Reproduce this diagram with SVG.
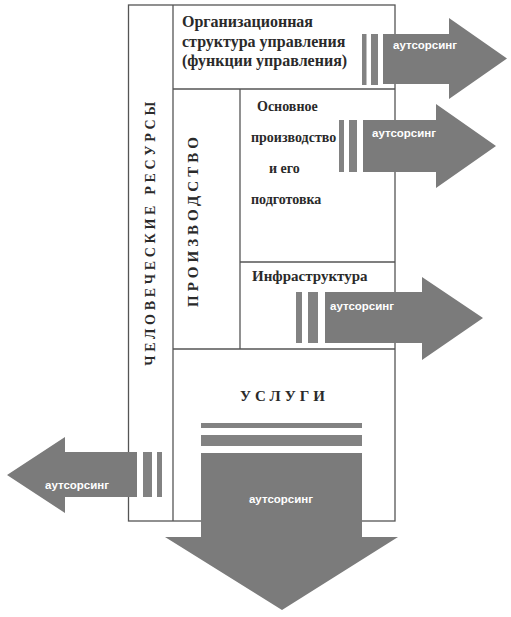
<svg xmlns="http://www.w3.org/2000/svg" width="511" height="617" viewBox="0 0 511 617">
<style>
.box{fill:none;stroke:#555;stroke-width:1.3}
.arr{fill:#7b7b7b}
.bar{fill:#828282}
.lbl{font-family:"Liberation Serif","Times New Roman",serif;font-weight:bold;fill:#2a2a2a}
.out{font-family:"Liberation Sans",Arial,sans-serif;font-weight:bold;fill:#fff;font-size:11.5px}
</style>
<rect width="511" height="617" fill="#fff"/>
<g id="frame">
<rect class="box" x="128.5" y="5" width="266.5" height="516"/>
<line class="box" x1="173" y1="5" x2="173" y2="521"/>
</g>
<g id="node-org">
<line class="box" x1="173" y1="89" x2="395" y2="89"/>
<text class="lbl" font-size="16" x="182" y="27">Организационная</text>
<text class="lbl" font-size="16" x="182" y="47">структура управления</text>
<text class="lbl" font-size="16" x="182" y="66">(функции управления)</text>
</g>
<g id="node-hr">
<text class="lbl" font-size="14" letter-spacing="3.7" transform="translate(155,232) rotate(-90)" text-anchor="middle">ЧЕЛОВЕЧЕСКИЕ РЕСУРСЫ</text>
</g>
<g id="node-prod">
<line class="box" x1="240" y1="89" x2="240" y2="349"/>
<text class="lbl" font-size="15" letter-spacing="4" transform="translate(198,220) rotate(-90)" text-anchor="middle">ПРОИЗВОДСТВО</text>
</g>
<g id="node-main">
<line class="box" x1="240" y1="262" x2="395" y2="262"/>
<text class="lbl" font-size="14" x="257" y="111">Основное</text>
<text class="lbl" font-size="14" x="251" y="142">производство</text>
<text class="lbl" font-size="14" x="269" y="173">и его</text>
<text class="lbl" font-size="14" x="251" y="204">подготовка</text>
</g>
<g id="node-infra">
<line class="box" x1="173" y1="349" x2="395" y2="349"/>
<text class="lbl" font-size="15" x="252" y="281">Инфраструктура</text>
</g>
<g id="node-services">
<text class="lbl" font-size="15" letter-spacing="4" x="240" y="401">УСЛУГИ</text>
</g>
<g id="connectors">
<g id="arrow-org">
<rect class="bar" x="362" y="34" width="4.5" height="51"/>
<rect class="bar" x="371" y="34" width="7" height="51"/>
<polygon class="arr" points="383,34 449,34 449,18 507,58.5 449,99 449,84 383,84"/>
<text class="out" x="393" y="49">аутсорсинг</text>
</g>
<g id="arrow-main">
<rect class="bar" x="339" y="120" width="5" height="52"/>
<rect class="bar" x="349" y="120" width="8" height="52"/>
<polygon class="arr" points="363,120 436,120 436,104 496,146 436,188 436,172 363,172"/>
<text class="out" font-size="12" x="372" y="137">аутсорсинг</text>
</g>
<g id="arrow-infra">
<rect class="bar" x="296" y="292" width="6" height="51"/>
<rect class="bar" x="308" y="292" width="10" height="51"/>
<polygon class="arr" points="325,292 422,292 422,277 483,318 422,360 422,343 325,343"/>
<text class="out" font-size="12" x="330" y="310">аутсорсинг</text>
</g>
<g id="arrow-hr">
<rect class="bar" x="143" y="452" width="9" height="45"/>
<rect class="bar" x="157" y="452" width="5" height="45"/>
<polygon class="arr" points="137,452 65,452 65,437 7,475 65,513 65,497 137,497"/>
<text class="out" font-size="12" x="45" y="489">аутсорсинг</text>
</g>
<g id="arrow-services">
<rect class="bar" x="201" y="423" width="161" height="5"/>
<rect class="bar" x="201" y="435" width="161" height="11"/>
<polygon class="arr" points="201,453 362,453 362,537 398,537 282,610 165,537 201,537"/>
<text class="out" font-size="12" x="281" y="503" text-anchor="middle">аутсорсинг</text>
</g>
</g>
</svg>
